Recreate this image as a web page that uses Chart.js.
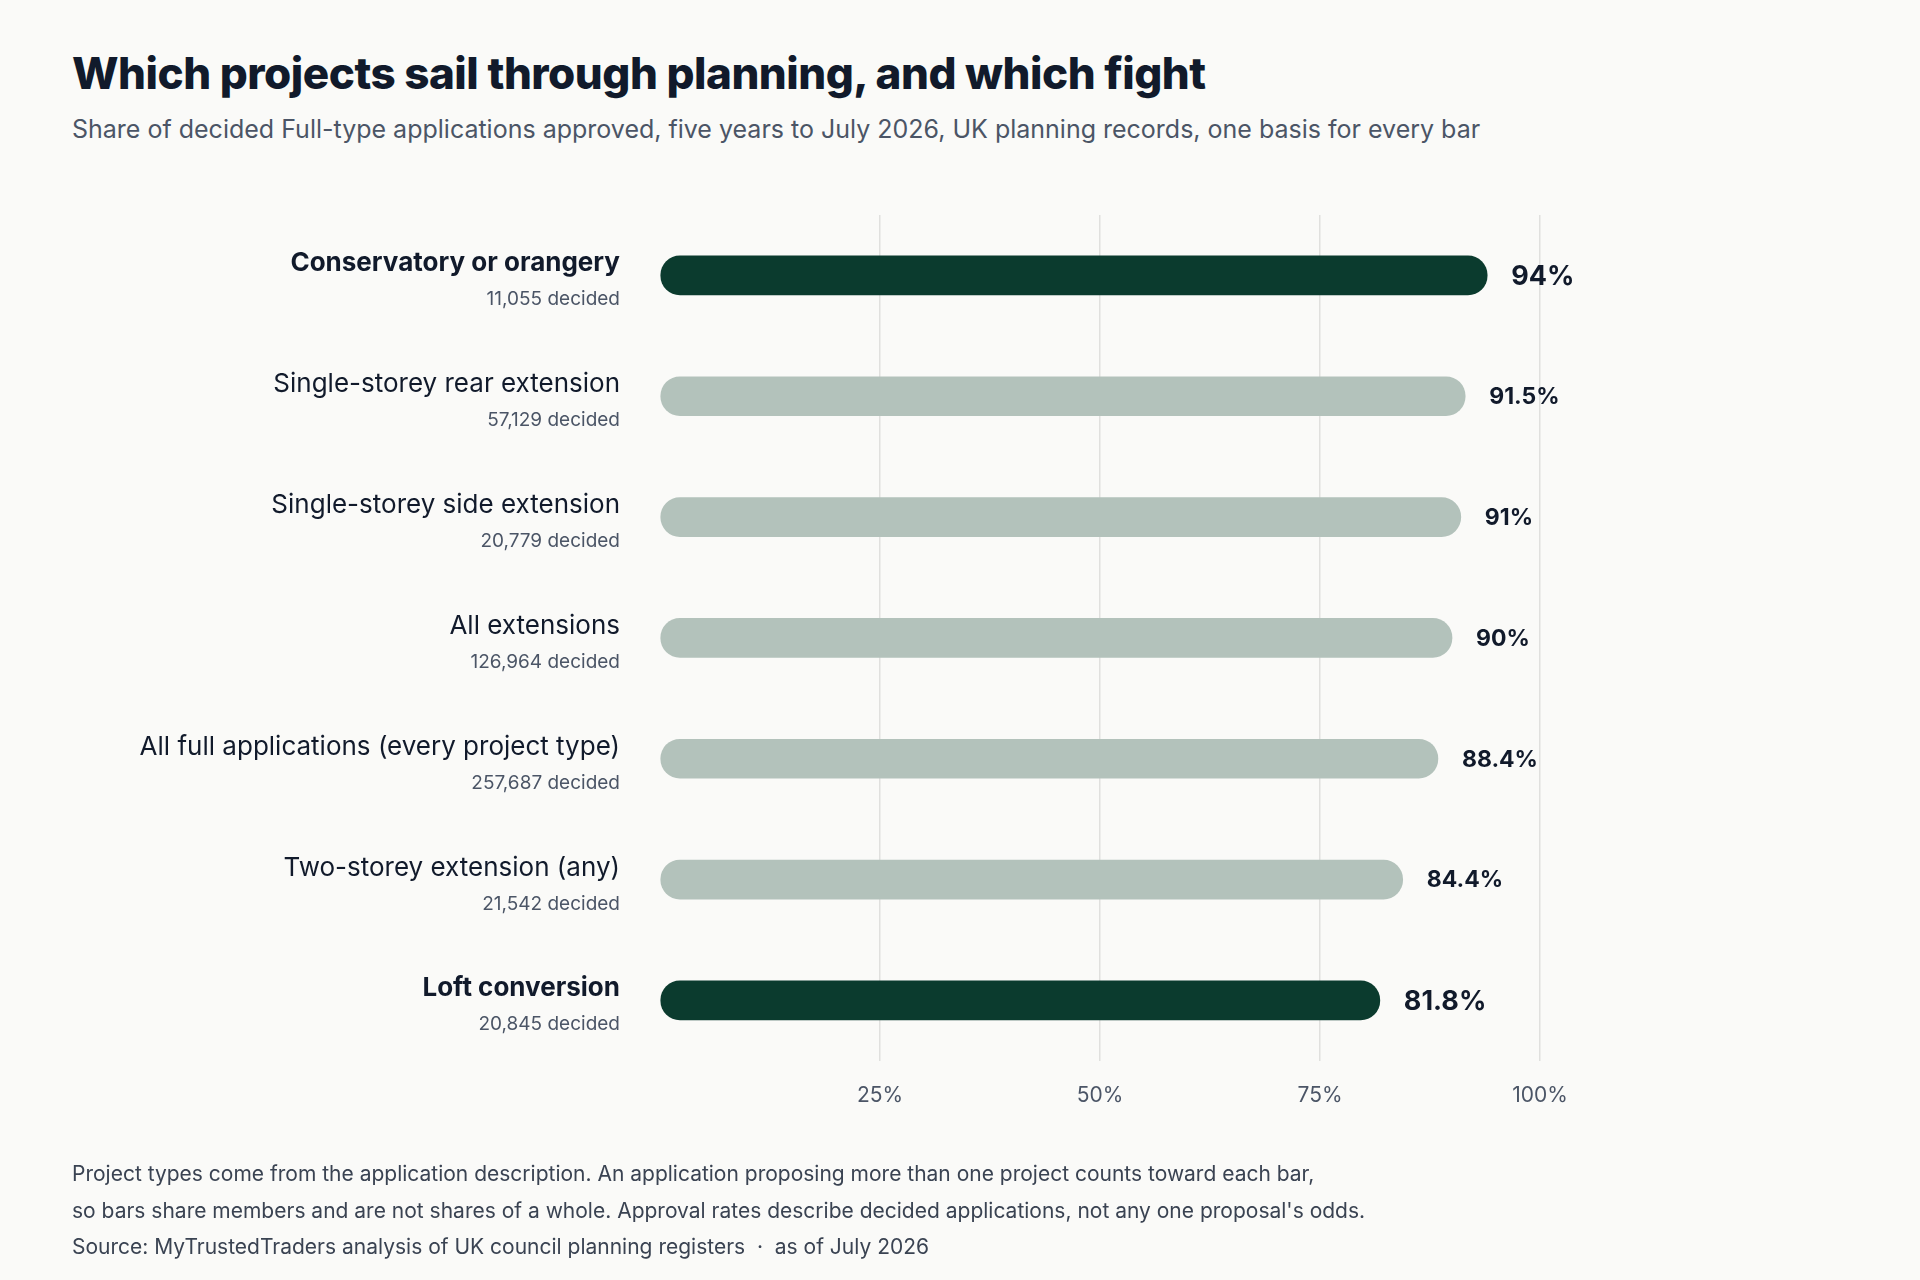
<!DOCTYPE html>
<html lang="en">
<head>
<meta charset="UTF-8">
<title>Which projects sail through planning</title>
<script src="https://cdn.jsdelivr.net/npm/chart.js"></script>
<style>
  body, html { margin:0; padding:0; background:#fafaf8; font-family:Inter, 'Noto Sans', sans-serif; color:#111827; }
  .wrap { position:relative; width:1920px; height:1280px; }
  h1 { position:absolute; left:72px; top:46px; margin:0; font-size:44px; font-weight:800; letter-spacing:-0.5px; color:#111a2b; }
  .sub { position:absolute; left:72px; top:114px; font-size:25px; color:#4b5566; }
  canvas { position:absolute; left:0; top:0; }
  .notes { position:absolute; left:72px; top:1156px; font-size:21px; line-height:36.5px; color:#3a4352; }
</style>
</head>
<body>
<div class="wrap">
  <h1>Which projects sail through planning, and which fight</h1>
  <div class="sub">Share of decided Full-type applications approved, five years to July 2026, UK planning records, one basis for every bar</div>
  <canvas id="c" width="1920" height="1280"></canvas>
  <div class="notes">
    Project types come from the application description. An application proposing more than one project counts toward each bar,<br>
    so bars share members and are not shares of a whole. Approval rates describe decided applications, not any one proposal's odds.<br>
    Source: MyTrustedTraders analysis of UK council planning registers &nbsp;·&nbsp; as of July 2026
  </div>
</div>
<script>
  const categories = ['Conservatory or orangery', 'Single-storey rear extension', 'Single-storey side extension', 'All extensions', 'All full applications (every project type)', 'Two-storey extension (any)', 'Loft conversion'];
  const decided = ['11,055', '57,129', '20,779', '126,964', '257,687', '21,542', '20,845'];
  const approval = [94, 91.5, 91, 90, 88.4, 84.4, 81.8];
  const valueLabels = ['94%', '91.5%', '91%', '90%', '88.4%', '84.4%', '81.8%'];
  const highlight = [true, false, false, false, false, false, true];

  const dark = '#0b3b2e', light = '#b3c2bb';

  const labelPlugin = {
    id: 'labels',
    afterDatasetsDraw(chart) {
      const ctx = chart.ctx;
      const meta = chart.getDatasetMeta(0);
      ctx.save();
      meta.data.forEach((bar, i) => {
        const y = bar.y;
        ctx.textAlign = 'right';
        ctx.textBaseline = 'alphabetic';
        ctx.fillStyle = '#111a2b';
        ctx.font = (highlight[i] ? '700 ' : '400 ') + '26px Inter, sans-serif';
        ctx.fillText(categories[i], 620, y - 4);
        ctx.fillStyle = '#4b5566';
        ctx.font = '400 19px Inter, sans-serif';
        ctx.fillText(decided[i] + ' decided', 620, y + 30);
        ctx.textAlign = 'left';
        ctx.textBaseline = 'middle';
        ctx.fillStyle = '#111a2b';
        ctx.font = '700 ' + (highlight[i] ? '27px' : '23px') + ' Inter, sans-serif';
        ctx.fillText(valueLabels[i], bar.x + 24, y + 1);
      });
      ctx.restore();
    }
  };

  new Chart(document.getElementById('c'), {
    type: 'bar',
    data: {
      labels: categories,
      datasets: [{
        data: approval,
        backgroundColor: highlight.map(h => h ? dark : light),
        borderRadius: 20,
        borderSkipped: false,
        barThickness: 39
      }]
    },
    options: {
      indexAxis: 'y',
      responsive: false,
      animation: false,
      layout: { padding: { left: 660, right: 380, top: 215, bottom: 150 } },
      plugins: { legend: { display: false }, tooltip: { enabled: false } },
      scales: {
        y: { display: false },
        x: {
          min: 0, max: 100,
          border: { display: false },
          grid: { color: c => c.tick && c.tick.value === 0 ? 'rgba(0,0,0,0)' : 'rgba(0,0,0,0.1)', lineWidth: 1.5, drawTicks: false },
          ticks: {
            stepSize: 25, padding: 22,
            color: '#4b5566', font: { family: 'Inter', size: 21 },
            callback: v => v === 0 ? '' : v + '%'
          }
        }
      }
    },
    plugins: [labelPlugin]
  });
</script>
</body>
</html>
